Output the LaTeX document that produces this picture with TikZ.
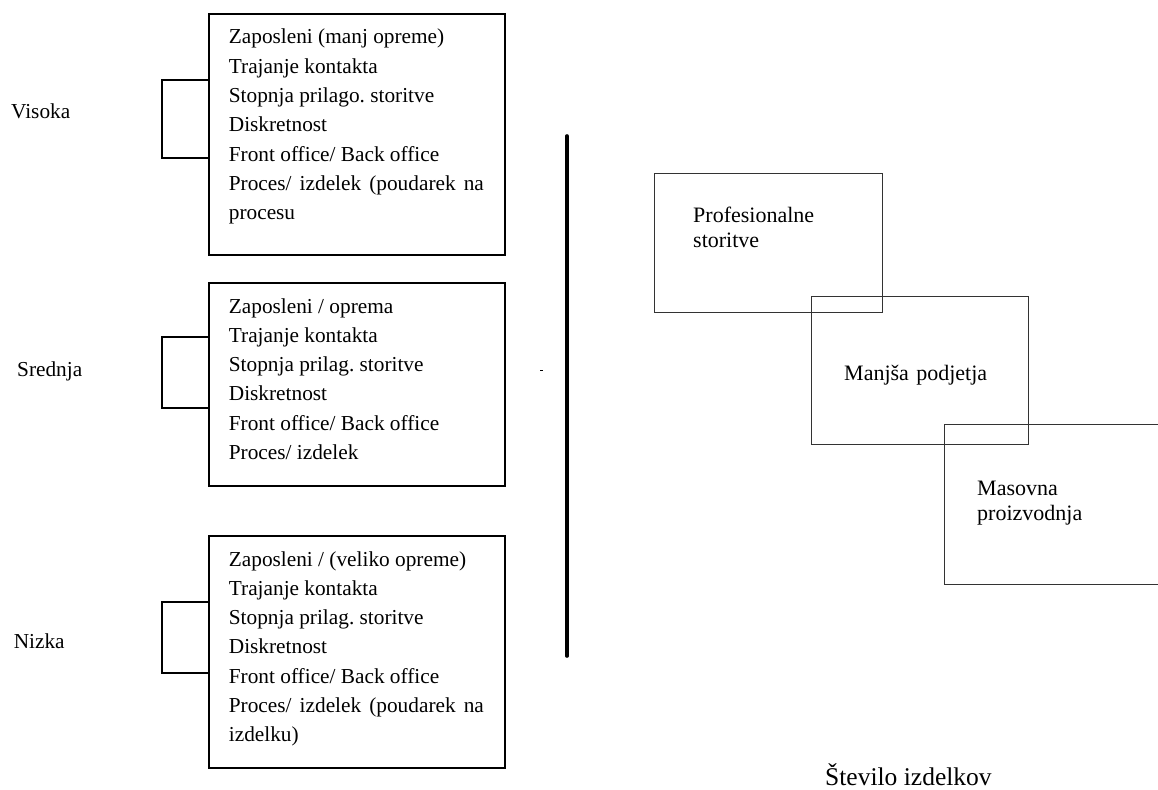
\documentclass[tikz,border=0pt]{standalone}
\usepackage{fontspec}
\setmainfont{Liberation Serif}
\frenchspacing
\begin{document}
\frenchspacing
\begin{tikzpicture}[x=1pt,y=-1pt,
  lbox/.style={draw, line width=1.6pt, rectangle, inner sep=0pt, anchor=north west},
  rbox/.style={draw=black!80, line width=1pt, rectangle, inner sep=0pt, anchor=north west},
  ltext/.style={anchor=base west, inner sep=0pt, text width=255pt, align=justify,
    font=\fontsize{21.3}{29.3}\selectfont},
  rtext/.style={anchor=base west, inner sep=0pt, text width=180pt, align=left,
    font=\fontsize{22}{24.6}\selectfont},
  lab/.style={anchor=base west, inner sep=0pt, font=\fontsize{21.3}{25}\selectfont},
  brk/.style={draw, line width=1.4pt}
]
\useasboundingbox (0,0) rectangle (1158,789);

% left boxes
\node[lbox, minimum width=296pt, minimum height=241pt] (box1) at (208,13) {};
\node[lbox, minimum width=296pt, minimum height=203pt] (box2) at (208,282) {};
\node[lbox, minimum width=296pt, minimum height=232pt] (box3) at (208,535) {};

\node[ltext] (t1) at (228.7,44) {\frenchspacing Zaposleni (manj opreme)\par Trajanje kontakta\par Stopnja prilago. storitve\par Diskretnost\par Front office/ Back office\par Proces/ izdelek (poudarek na\linebreak procesu};
\node[ltext] (t2) at (228.7,313) {\frenchspacing Zaposleni / oprema\par Trajanje kontakta\par Stopnja prilag. storitve\par Diskretnost\par Front office/ Back office\par Proces/ izdelek};
\node[ltext] (t3) at (228.7,566) {\frenchspacing Zaposleni / (veliko opreme)\par Trajanje kontakta\par Stopnja prilag. storitve\par Diskretnost\par Front office/ Back office\par Proces/ izdelek (poudarek na\linebreak izdelku)};

% labels
\node[lab] (visoka) at (11,119) {Visoka};
\node[lab] (srednja) at (17,376) {Srednja};
\node[lab] (nizka) at (13.6,648) {Nizka};

% brackets
\coordinate (b1t) at (box1.west |- 0,80);
\coordinate (b1b) at (box1.west |- 0,158);
\draw[brk] (b1t) -- (162,80) -- (162,158) -- (b1b);
\coordinate (b2t) at (box2.west |- 0,337);
\coordinate (b2b) at (box2.west |- 0,408);
\draw[brk] (b2t) -- (162,337) -- (162,408) -- (b2b);
\coordinate (b3t) at (box3.west |- 0,602);
\coordinate (b3b) at (box3.west |- 0,673);
\draw[brk] (b3t) -- (162,602) -- (162,673) -- (b3b);

% vertical axis line
\coordinate (vtop) at (567,136);
\coordinate (vbot) at (567,656);
\draw[line width=3.6pt, line cap=round] (vtop) -- (vbot);
\fill (540,369.5) rectangle (542.5,371);

% right boxes
\node[rbox, minimum width=228pt, minimum height=139pt] (pa) at (654,173) {};
\node[rbox, minimum width=217pt, minimum height=148pt] (pb) at (811,296) {};
\node[rbox, minimum width=220pt, minimum height=160pt] (pc) at (944,424) {};

\node[rtext] (pat) at (693,222.7) {Profesionalne\\storitve};
\node[rtext] (pbt) at (844,380) {Manjša podjetja};
\node[rtext] (pct) at (977,495.5) {Masovna\\proizvodnja};

\node[anchor=base west, inner sep=0pt, font=\fontsize{25.5}{30}\selectfont] (stev) at (825,785) {Število izdelkov};
\end{tikzpicture}
\end{document}
